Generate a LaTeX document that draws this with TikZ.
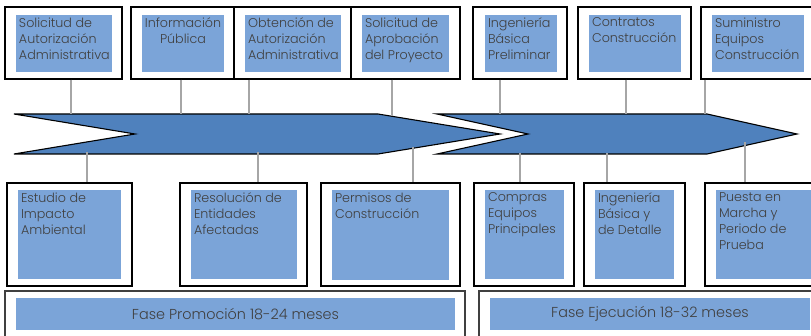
\documentclass[tikz,border=0pt]{standalone}
\usepackage{fontspec}
\setmainfont{Poppins Light}
\usetikzlibrary{fit}
\definecolor{arrowblue}{HTML}{4F81BD}
\definecolor{innerblue}{HTML}{7BA4D8}
\definecolor{conngray}{HTML}{A6A6A6}
\definecolor{txtgray}{HTML}{404040}
\tikzset{
  obox/.style={draw=black, line width=1.3pt, fill=white, inner sep=0pt},
  pbox/.style={draw=black!75, line width=1.3pt, fill=white, inner sep=0pt},
  ibox/.style={fill=innerblue, inner sep=0pt},
  lbl/.style={anchor=north west, inner xsep=3pt, inner ysep=3pt, text=txtgray, font=\fontsize{12.7}{16}\selectfont, align=left},
  clbl/.style={anchor=north, inner xsep=0pt, inner ysep=3pt, text=txtgray, font=\fontsize{12.7}{16}\selectfont, align=center},
  plbl/.style={text=txtgray, font=\fontsize{14.4}{16}\selectfont},
  arr/.style={draw=black, line width=1.1pt, fill=arrowblue, line join=miter},
  conn/.style={draw=conngray, line width=1.4pt}
}
\begin{document}
\begin{tikzpicture}[x=1pt,y=-1pt]
\useasboundingbox (0,0) rectangle (811,336);
% ---- top boxes
\node[obox, fit={(5,7) (122,79)}] (t1) {};
\node[obox, fit={(131,7) (234,79)}] (t2) {};
\node[obox, fit={(234,7) (351,79)}] (t3) {};
\node[obox, fit={(351,7) (460,79)}] (t4) {};
\node[obox, fit={(473,7) (567,79)}] (t5) {};
\node[obox, fit={(578,7) (691,79)}] (t6) {};
\node[obox, fit={(701,7) (825,79)}] (t7) {};
\node[ibox, fit={(16,15) (112,72)}] (t1i) {};
\node[ibox, fit={(142,15) (224,72)}] (t2i) {};
\node[ibox, fit={(245,15) (341,72)}] (t3i) {};
\node[ibox, fit={(362,15) (449,72)}] (t4i) {};
\node[ibox, fit={(485,15) (557,72)}] (t5i) {};
\node[ibox, fit={(589,15) (681,72)}] (t6i) {};
\node[ibox, fit={(712,15) (804,72)}] (t7i) {};
\node[lbl] (t1l) at (t1i.north west) {Solicitud de\\Autorización\\Administrativa};
\node[clbl] (t2l) at (t2i.north) {Información\\Pública};
\node[lbl] (t3l) at (t3i.north west) {Obtención de\\Autorización\\Administrativa};
\node[lbl] (t4l) at (t4i.north west) {Solicitud de\\Aprobación\\del Proyecto};
\node[lbl] (t5l) at (t5i.north west) {Ingeniería\\Básica\\Preliminar};
\node[lbl] (t6l) at (t6i.north west) {Contratos\\Construcción};
\node[lbl] (t7l) at (t7i.north west) {Suministro\\Equipos\\Construcción};
% ---- bottom boxes
\node[obox, fit={(7,183) (132,286)}] (b1) {};
\node[obox, fit={(180,183) (307,286)}] (b2) {};
\node[obox, fit={(321,183) (460,286)}] (b3) {};
\node[obox, fit={(474,183) (574,286)}] (b4) {};
\node[obox, fit={(584,183) (685,286)}] (b5) {};
\node[obox, fit={(705,183) (825,286)}] (b6) {};
\node[ibox, fit={(18,190) (121,279)}] (b1i) {};
\node[ibox, fit={(191,190) (297,279)}] (b2i) {};
\node[ibox, fit={(332,190) (449,280)}] (b3i) {};
\node[ibox, fit={(485,190) (564,279)}] (b4i) {};
\node[ibox, fit={(595,190) (674,279)}] (b5i) {};
\node[ibox, fit={(716,190) (820,279)}] (b6i) {};
\node[lbl] (b1l) at (b1i.north west) {Estudio de\\Impacto\\Ambiental};
\node[lbl] (b2l) at (b2i.north west) {Resolución de\\Entidades\\Afectadas};
\node[lbl] (b3l) at (b3i.north west) {Permisos de\\Construcción};
\node[lbl] (b4l) at (b4i.north west) {Compras\\Equipos\\Principales};
\node[lbl] (b5l) at (b5i.north west) {Ingeniería\\Básica y\\de Detalle};
\node[lbl] (b6l) at (b6i.north west) {Puesta en\\Marcha y\\Periodo de\\Prueba};
% ---- phase boxes
\node[pbox, fit={(5,291) (465,345)}] (p1) {};
\node[pbox, fit={(479,291) (825,345)}] (p2) {};
\node[ibox, fit={(16,298) (455,330)}] (p1i) {};
\node[ibox, fit={(490,298) (810,330)}] (p2i) {};
\node[plbl] (p1l) at (p1i.center) {Fase Promoción 18-24 meses};
\node[plbl] (p2l) at (p2i.center) {Fase Ejecución 18-32 meses};
% ---- arrows
\draw[arr] (14,114) -- (378,114) -- (500,134) -- (378,154) -- (14,154) -- (135,134) -- cycle;
\draw[arr] (437,114) -- (707,114) -- (797,134) -- (707,154) -- (437,154) -- (528,134) -- cycle;
\coordinate (a1) at (71,114);
\coordinate (a2) at (181,114);
\coordinate (a3) at (249,114);
\coordinate (a4) at (392,116);
\coordinate (a5) at (500,114);
\coordinate (a6) at (626,114);
\coordinate (a7) at (705,114);
\coordinate (c1) at (87,152);
\coordinate (c2) at (258,152);
\coordinate (c3) at (413,147);
\coordinate (c4) at (520,153);
\coordinate (c5) at (607,153);
\coordinate (c6) at (745,142);
% ---- connectors
\draw[conn] (t1.south -| a1) -- (a1);
\draw[conn] (t2.south -| a2) -- (a2);
\draw[conn] (t3.south -| a3) -- (a3);
\draw[conn] (t4.south -| a4) -- (a4);
\draw[conn] (t5.south -| a5) -- (a5);
\draw[conn] (t6.south -| a6) -- (a6);
\draw[conn] (t7.south -| a7) -- (a7);
\draw[conn] (c1) -- (c1 |- b1.north);
\draw[conn] (c2) -- (c2 |- b2.north);
\draw[conn] (c3) -- (c3 |- b3.north);
\draw[conn] (c4) -- (c4 |- b4.north);
\draw[conn] (c5) -- (c5 |- b5.north);
\draw[conn] (c6) -- (c6 |- b6.north);
\end{tikzpicture}
\end{document}
